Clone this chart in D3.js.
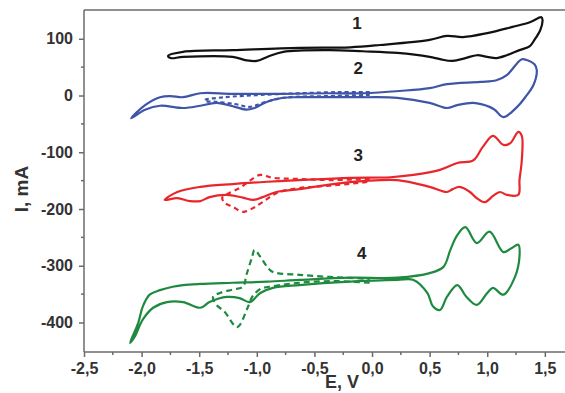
<!DOCTYPE html>
<html>
<head>
<meta charset="utf-8">
<script src="https://cdn.jsdelivr.net/npm/d3@7/dist/d3.min.js"></script>
<style>
  html, body { margin: 0; padding: 0; background: #fff; }
  svg { display: block; font-family: "Liberation Sans", Arial, sans-serif; }
</style>
</head>
<body>
<svg id="chart" width="565" height="393"></svg>
<script>
// Cyclic voltammograms: potential E (V) vs current I (mA), four offset loops.
const xTicks = [-2.5, -2.0, -1.5, -1.0, -0.5, 0.0, 0.5, 1.0, 1.5];
const yTicks = [100, 0, -100, -200, -300, -400];
const curveLabels = ["1", "2", "3", "4"];

// Curve 1 (closed loop)
const curve1 = [[-1.77,70],[-1.64,77],[-1.21,80],[-0.63,84],[-0.19,85],[0.07,89],[0.50,98],[0.65,105],[0.79,103],[1.00,110],[1.22,121],[1.37,129],[1.47,138],[1.48,133],[1.46,115],[1.41,98],[1.37,87],[1.28,80],[1.17,71],[1.08,66],[1.00,68],[0.91,71],[0.81,66],[0.70,61],[0.59,64],[0.50,68],[0.22,75],[-0.08,78],[-0.37,80],[-0.77,77],[-0.91,68],[-1.00,61],[-1.09,62],[-1.21,68],[-1.64,68],[-1.75,66]];

// Curve 2: full scan and partial (dashed) scan
const curve2 = [[-2.09,-40],[-1.97,-17],[-1.84,-3],[-1.75,-1],[-1.64,-3],[-1.49,4],[-1.21,3],[-0.77,3],[-0.37,4],[-0.08,4],[0.24,8],[0.50,13],[0.65,20],[0.94,24],[1.08,27],[1.17,36],[1.26,57],[1.30,64],[1.35,62],[1.41,55],[1.43,45],[1.40,18],[1.33,-3],[1.26,-20],[1.14,-38],[1.07,-26],[1.02,-20],[0.88,-13],[0.74,-17],[0.65,-22],[0.50,-13],[0.22,-4],[-0.08,-3],[-0.63,-3],[-0.77,-4],[-0.91,-11],[-1.02,-22],[-1.09,-25],[-1.19,-20],[-1.35,-13],[-1.49,-18],[-1.64,-22],[-1.84,-18],[-1.97,-25]];
const curve2b = [[-0.02,6],[-0.28,6],[-0.63,4],[-0.97,1],[-1.28,-3],[-1.45,-8],[-1.45,-10],[-1.36,-11],[-1.19,-15],[-1.06,-20],[-0.95,-13],[-0.77,-4],[-0.37,-1],[-0.02,1]];

// Curve 3: full scan and partial (dashed) scan
const curve3 = [[-1.80,-184],[-1.69,-170],[-1.49,-161],[-1.21,-156],[-0.91,-152],[-0.63,-149],[-0.19,-145],[0.16,-144],[0.36,-140],[0.59,-131],[0.74,-119],[0.88,-114],[0.96,-91],[1.05,-71],[1.14,-87],[1.20,-84],[1.27,-64],[1.30,-71],[1.30,-114],[1.28,-149],[1.27,-175],[1.17,-175],[1.11,-170],[1.05,-177],[0.98,-188],[0.91,-181],[0.85,-170],[0.76,-161],[0.70,-165],[0.65,-170],[0.50,-161],[0.22,-149],[-0.08,-151],[-0.37,-157],[-0.63,-165],[-0.83,-170],[-0.95,-179],[-1.03,-184],[-1.12,-180],[-1.26,-175],[-1.41,-179],[-1.49,-186],[-1.58,-186],[-1.69,-181]];
const curve3b = [[-0.02,-147],[-0.37,-149],[-0.63,-147],[-0.86,-145],[-0.97,-140],[-1.06,-150],[-1.15,-163],[-1.25,-173],[-1.30,-180],[-1.28,-189],[-1.21,-196],[-1.12,-205],[-1.03,-198],[-0.95,-188],[-0.83,-172],[-0.63,-163],[-0.37,-159],[-0.02,-152]];

// Curve 4: full scan and partial (dashed) scan
const curve4 = [[-2.10,-436],[-2.03,-401],[-1.99,-372],[-1.93,-351],[-1.84,-343],[-1.73,-337],[-1.64,-334],[-1.49,-332],[-1.21,-330],[-0.91,-328],[-0.63,-325],[-0.19,-321],[0.22,-321],[0.50,-313],[0.62,-302],[0.68,-272],[0.74,-246],[0.81,-232],[0.91,-260],[1.02,-240],[1.14,-276],[1.21,-269],[1.27,-263],[1.28,-284],[1.24,-320],[1.14,-351],[1.05,-339],[1.00,-348],[0.91,-369],[0.82,-355],[0.74,-334],[0.65,-355],[0.59,-378],[0.53,-372],[0.48,-348],[0.36,-325],[0.22,-325],[-0.19,-328],[-0.63,-334],[-0.86,-339],[-0.97,-348],[-1.06,-364],[-1.15,-357],[-1.26,-355],[-1.41,-364],[-1.49,-374],[-1.64,-364],[-1.78,-364],[-1.90,-374],[-1.99,-395],[-2.06,-425]];
const curve4b = [[-0.02,-330],[-0.34,-327],[-0.63,-330],[-0.86,-336],[-0.97,-341],[-1.04,-355],[-1.08,-374],[-1.17,-408],[-1.28,-381],[-1.35,-369],[-1.38,-355],[-1.32,-348],[-1.21,-342],[-1.12,-337],[-1.09,-316],[-1.04,-284],[-1.02,-272],[-0.97,-284],[-0.91,-302],[-0.86,-311],[-0.63,-316],[-0.34,-320],[-0.02,-323]];

// Label anchor points (E, I) for the curve numbers
const labelPos = [[-0.13,117],[-0.12,38],[-0.12,-116],[-0.09,-288]];

const svg = d3.select("#chart");
const x = d3.scaleLinear().domain([-2.5, 1.675]).range([84, 565]);
const y = d3.scaleLinear().domain([-452, 150.7]).range([352, 10]);

const axisColor = "#6b6b6b";
const textColor = "#333";

// Frame top line
svg.append("line").attr("x1", x(-2.5)).attr("x2", 565).attr("y1", y(150.7)).attr("y2", y(150.7))
  .attr("stroke", axisColor).attr("stroke-width", 1.5);

// X axis
const fmt = d => d3.format(".1f")(d).replace(".", ",").replace("−", "-");
const xAxis = d3.axisBottom(x).tickValues(xTicks).tickSize(5).tickPadding(6).tickFormat(fmt);
const gx = svg.append("g").attr("transform", `translate(0,${y(-452)})`).call(xAxis);
gx.select(".domain").attr("stroke", axisColor).attr("stroke-width", 1.5).attr("d", `M84,0H565`);
gx.selectAll(".tick line").attr("stroke", axisColor).attr("stroke-width", 1.5);
gx.selectAll(".tick text").attr("fill", textColor).attr("font-size", 16).attr("font-weight", "bold")
  .attr("font-family", "Liberation Sans, Arial, sans-serif");
const xMinor = d3.range(-2.25, 1.7, 0.5);
svg.append("g").selectAll("line").data(xMinor).join("line")
  .attr("x1", d => x(d)).attr("x2", d => x(d)).attr("y1", y(-452)).attr("y2", y(-452) + 3)
  .attr("stroke", axisColor).attr("stroke-width", 1.5);

// Y axis
const yAxis = d3.axisLeft(y).tickValues(yTicks).tickSize(5).tickPadding(6).tickFormat(d => d3.format("d")(d).replace("−", "-"));
const gy = svg.append("g").attr("transform", `translate(${x(-2.5)},0)`).call(yAxis);
gy.select(".domain").attr("stroke", axisColor).attr("stroke-width", 1.5).attr("d", `M0,${y(-452)}V${y(150.7)}`);
gy.selectAll(".tick line").attr("stroke", axisColor).attr("stroke-width", 1.5);
gy.selectAll(".tick text").attr("fill", textColor).attr("font-size", 16).attr("font-weight", "bold")
  .attr("font-family", "Liberation Sans, Arial, sans-serif");
const yMinor = [50, -50, -150, -250, -350];
svg.append("g").selectAll("line").data(yMinor).join("line")
  .attr("x1", x(-2.5) - 3).attr("x2", x(-2.5)).attr("y1", d => y(d)).attr("y2", d => y(d))
  .attr("stroke", axisColor).attr("stroke-width", 1.5);

// Axis titles
svg.append("text").attr("x", 342).attr("y", 388).attr("text-anchor", "middle")
  .attr("font-size", 18).attr("font-weight", "bold").attr("fill", textColor).text("E, V");
svg.append("text").attr("transform", "translate(28,189) rotate(-90)").attr("text-anchor", "middle")
  .attr("font-size", 19).attr("font-weight", "bold").attr("fill", textColor).text("I, mA");

// Curves
const closedLine = d3.line().x(d => x(d[0])).y(d => y(d[1])).curve(d3.curveCatmullRomClosed.alpha(0.5));
const openLine = d3.line().x(d => x(d[0])).y(d => y(d[1])).curve(d3.curveCatmullRom.alpha(0.5));

const series = [
  { data: curve1, color: "#111111", dash: null, closed: true },
  { data: curve2, color: "#3f55a8", dash: null, closed: true },
  { data: curve2b, color: "#3f55a8", dash: "4,3", closed: false },
  { data: curve3, color: "#e8262b", dash: null, closed: true },
  { data: curve3b, color: "#e8262b", dash: "5,4", closed: false },
  { data: curve4, color: "#1f8a3f", dash: null, closed: true },
  { data: curve4b, color: "#1f8a3f", dash: "6,4", closed: false }
];

svg.append("g").selectAll("path").data(series).join("path")
  .attr("d", s => (s.closed ? closedLine : openLine)(s.data))
  .attr("fill", "none")
  .attr("stroke", s => s.color)
  .attr("stroke-width", 2.2)
  .attr("stroke-linejoin", "round")
  .attr("stroke-dasharray", s => s.dash);

// Curve numbers
svg.append("g").selectAll("text").data(curveLabels).join("text")
  .attr("x", (d, i) => x(labelPos[i][0]))
  .attr("y", (d, i) => y(labelPos[i][1]))
  .attr("text-anchor", "middle")
  .attr("font-size", 17).attr("font-weight", "bold").attr("fill", "#222")
  .text(d => d);
</script>
</body>
</html>
